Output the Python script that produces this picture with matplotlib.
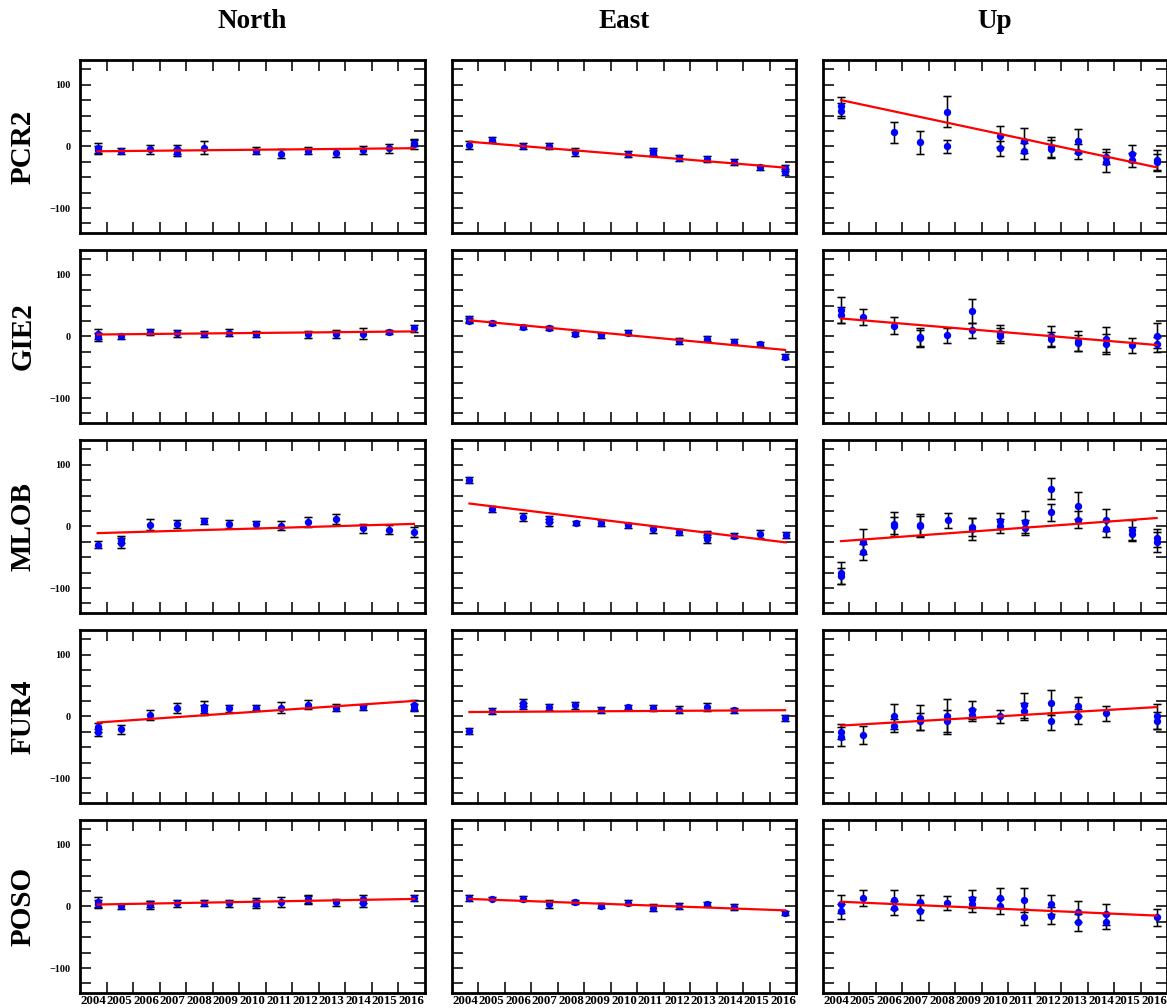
import matplotlib
matplotlib.use("Agg")
import matplotlib.pyplot as plt
from matplotlib.ticker import MultipleLocator, FuncFormatter, FixedLocator
import numpy as np

plt.rcParams['font.family'] = ['Liberation Serif', 'DejaVu Serif']
plt.rcParams['font.weight'] = 'bold'

stations = ["PCR2", "GIE2", "MLOB", "FUR4", "POSO"]
components = ["North", "East", "Up"]
year_labels = [str(y) for y in range(2004, 2017)]

# ---------------- PCR2 ----------------
pcr2_n_t = [2004.67, 2004.67, 2005.53, 2006.66, 2007.67, 2007.67, 2008.67, 2010.66, 2011.60, 2012.60, 2013.65, 2014.68, 2015.66, 2016.60, 2016.60]
pcr2_n_v = [-2, -6, -7.5, -5, -5, -10, -2, -7, -12, -7, -11, -6, -3, 3, 6]
pcr2_n_e = [8, 6, 5, 7, 7, 6, 10, 6, 7, 6, 7, 6, 7, 8, 6]
pcr2_n_fit = [-8, -3]

pcr2_e_t = [2004.67, 2005.53, 2006.68, 2007.66, 2008.66, 2010.66, 2011.58, 2011.58, 2012.58, 2013.62, 2014.65, 2015.65, 2016.58, 2016.58]
pcr2_e_v = [2, 11, 0.5, 0, -9, -12.5, -8, -11, -19, -20, -26, -34, -35, -42]
pcr2_e_e = [6, 4, 5, 5, 7, 5, 6, 5, 5, 5, 5, 4, 5, 5]
pcr2_e_fit = [7.5, -34.5]

pcr2_u_t = [2004.69, 2004.69, 2006.69, 2007.68, 2008.69, 2008.69, 2010.68, 2010.68, 2011.61, 2011.61, 2012.62, 2012.62, 2013.65, 2013.65, 2014.68, 2014.68, 2015.67, 2015.67, 2016.60, 2016.60]
pcr2_u_v = [65, 58, 23, 6.5, 56, 0, 16, -3, 9, -8, -1.5, -3.5, 9, -9, -17, -25, -12, -22, -22, -26]
pcr2_u_e = [15, 12, 17, 19, 25, 11, 17, 12, 20, 13, 17, 14, 19, 12, 12, 16, 14, 12, 16, 14]
pcr2_u_fit = [75, -34]

# ---------------- GIE2 ----------------
gie2_n_t = [2004.67, 2004.67, 2005.53, 2006.66, 2007.67, 2008.67, 2009.63, 2010.66, 2012.60, 2013.65, 2014.68, 2015.66, 2016.60]
gie2_n_v = [4, -1, 0, 7.5, 5, 4, 6, 4, 3, 4, 4, 7, 13]
gie2_n_e = [8, 6, 4, 5, 6, 5, 6, 5, 6, 7, 9, 4, 6]
gie2_n_fit = [3, 8]

gie2_e_t = [2004.67, 2004.67, 2005.53, 2006.68, 2007.66, 2008.66, 2009.64, 2010.66, 2012.58, 2013.62, 2014.65, 2015.65, 2016.58]
gie2_e_v = [28, 25, 21.5, 15.5, 13.5, 4, 1.5, 5.5, -7, -4, -9, -12, -33]
gie2_e_e = [5, 4, 3, 3, 4, 3, 4, 4, 5, 4, 4, 3, 4]
gie2_e_fit = [26, -22]

gie2_u_t = [2004.69, 2004.69, 2005.53, 2006.69, 2007.68, 2007.68, 2008.69, 2009.65, 2009.65, 2010.68, 2010.68, 2012.62, 2012.62, 2013.65, 2013.65, 2014.68, 2014.68, 2015.67, 2016.60, 2016.60]
gie2_u_v = [43, 35, 32, 17, -1, -3, 2, 41, 10, 6, 1, 0, -5, -7.5, -11, -5, -13, -14.5, 1, -13]
gie2_u_e = [21, 13, 13, 14, 15, 14, 12, 19, 12, 13, 12, 16, 12, 16, 13, 20, 16, 12, 20, 12]
gie2_u_fit = [29, -14]

# ---------------- MLOB ----------------
mlob_n_t = [2004.67, 2005.53, 2005.53, 2006.66, 2007.67, 2008.67, 2009.63, 2010.66, 2011.60, 2012.60, 2013.65, 2014.68, 2015.66, 2016.60]
mlob_n_v = [-29.5, -21.5, -27, 2.5, 4, 8, 4, 3, 1, 7.5, 12, -3, -5.5, -9]
mlob_n_e = [6, 6, 8, 9, 7, 5, 6, 6, 7, 8, 8, 7, 7, 8]
mlob_n_fit = [-11, 4]

mlob_e_t = [2004.67, 2005.53, 2006.68, 2007.66, 2007.66, 2008.69, 2009.64, 2010.66, 2011.60, 2012.58, 2013.62, 2013.62, 2014.65, 2015.65, 2016.60]
mlob_e_v = [75, 28.5, 15, 12, 6.5, 5.5, 6, 1.5, -5, -9, -12, -20.5, -15, -12.5, -14.5]
mlob_e_e = [5, 5, 6, 5, 6, 3, 5, 4, 6, 5, 5, 6, 4, 6, 5]
mlob_e_fit = [37, -26]

mlob_u_t = [2004.69, 2004.69, 2005.53, 2005.53, 2006.69, 2006.69, 2007.68, 2007.68, 2008.71, 2009.65, 2009.65, 2010.68, 2010.68, 2011.63, 2011.63, 2012.62, 2012.62, 2013.65, 2013.65, 2014.68, 2014.68, 2015.67, 2015.67, 2016.60, 2016.60]
mlob_u_v = [-75, -80, -25, -42, 4, 1, 1.5, 0, 10, -4, -1, 9, 1, 6.5, -2, 61, 22.5, 33.5, 11, 10, -5, -6.5, -12.5, -19, -25]
mlob_u_e = [18, 13, 20, 13, 20, 14, 18, 16, 12, 18, 15, 13, 11, 18, 12, 17, 14, 22, 14, 18, 13, 16, 12, 14, 16]
mlob_u_fit = [-24, 13.5]

# ---------------- FUR4 ----------------
fur4_n_t = [2004.67, 2004.67, 2005.53, 2006.66, 2007.67, 2008.67, 2008.67, 2009.63, 2010.66, 2011.60, 2012.60, 2013.65, 2014.68, 2016.60, 2016.60]
fur4_n_v = [-18, -26, -21, 2, 14, 15, 10, 13, 14, 14, 19, 14, 15, 18, 14]
fur4_n_e = [7, 6, 7, 8, 8, 10, 8, 6, 4, 9, 7, 6, 4, 8, 6]
fur4_n_fit = [-10, 25]

fur4_e_t = [2004.67, 2005.53, 2006.68, 2006.68, 2007.66, 2008.66, 2009.64, 2010.66, 2011.58, 2012.58, 2013.62, 2014.65, 2016.58]
fur4_e_v = [-24, 8, 22, 17, 15, 18, 10, 15, 13, 11, 15, 10, -3]
fur4_e_e = [5, 5, 6, 5, 5, 6, 5, 3, 5, 5, 6, 4, 5]
fur4_e_fit = [7, 10]

fur4_u_t = [2004.69, 2004.69, 2005.53, 2006.69, 2006.69, 2007.68, 2007.68, 2008.69, 2008.69, 2009.65, 2009.65, 2010.68, 2011.61, 2011.61, 2012.62, 2012.62, 2013.65, 2013.65, 2014.68, 2016.60, 2016.60]
fur4_u_v = [-33, -25, -30, 0, -15, -2, -8, 0, -8, 10, 2, 0, 18, 8, 22, -8, 16, 0, 5, 0, -7]
fur4_u_e = [15, 12, 15, 20, 10, 20, 14, 28, 18, 15, 10, 10, 20, 14, 20, 14, 15, 12, 12, 20, 14]
fur4_u_fit = [-15, 15]

# ---------------- POSO ----------------
poso_n_t = [2004.67, 2004.67, 2005.53, 2006.66, 2006.66, 2007.67, 2008.67, 2009.63, 2010.66, 2010.66, 2011.60, 2012.60, 2012.60, 2013.65, 2014.68, 2014.68, 2016.60]
poso_n_v = [6.5, 3.5, 0, 2, 4, 5, 5, 5, 4, 7, 6.5, 12, 10, 6.5, 12, 5, 13]
poso_n_e = [8, 6, 4, 6, 5, 6, 5, 6, 7, 6, 8, 7, 6, 6, 7, 6, 5]
poso_n_fit = [3, 12]

poso_e_t = [2004.67, 2005.53, 2006.68, 2007.66, 2008.66, 2009.64, 2010.66, 2011.58, 2012.58, 2013.62, 2014.65, 2016.58]
poso_e_v = [13.5, 12.5, 12, 4, 6.5, 1, 5.5, -2, 0, 4, -1, -10.5]
poso_e_e = [5, 3, 4, 6, 3, 4, 4, 5, 5, 3, 5, 3]
poso_e_fit = [12, -6.5]

poso_u_t = [2004.69, 2004.69, 2005.53, 2006.69, 2006.69, 2007.68, 2007.68, 2008.69, 2009.65, 2009.65, 2010.68, 2010.68, 2011.61, 2011.61, 2012.62, 2012.62, 2013.65, 2013.65, 2014.68, 2014.68, 2016.60]
poso_u_v = [4, -8, 13.5, 11, -3, 6.5, -8, 5.5, 12, 3, 14, 0, 10, -18, 3, -15, -8.5, -26, -13, -25, -18]
poso_u_e = [15, 12, 13, 15, 11, 12, 14, 12, 15, 12, 16, 12, 19, 13, 16, 14, 17, 14, 17, 12, 14]
poso_u_fit = [7.5, -15]

panels = {
    ("PCR2", "North"): (pcr2_n_t, pcr2_n_v, pcr2_n_e, pcr2_n_fit),
    ("PCR2", "East"): (pcr2_e_t, pcr2_e_v, pcr2_e_e, pcr2_e_fit),
    ("PCR2", "Up"): (pcr2_u_t, pcr2_u_v, pcr2_u_e, pcr2_u_fit),
    ("GIE2", "North"): (gie2_n_t, gie2_n_v, gie2_n_e, gie2_n_fit),
    ("GIE2", "East"): (gie2_e_t, gie2_e_v, gie2_e_e, gie2_e_fit),
    ("GIE2", "Up"): (gie2_u_t, gie2_u_v, gie2_u_e, gie2_u_fit),
    ("MLOB", "North"): (mlob_n_t, mlob_n_v, mlob_n_e, mlob_n_fit),
    ("MLOB", "East"): (mlob_e_t, mlob_e_v, mlob_e_e, mlob_e_fit),
    ("MLOB", "Up"): (mlob_u_t, mlob_u_v, mlob_u_e, mlob_u_fit),
    ("FUR4", "North"): (fur4_n_t, fur4_n_v, fur4_n_e, fur4_n_fit),
    ("FUR4", "East"): (fur4_e_t, fur4_e_v, fur4_e_e, fur4_e_fit),
    ("FUR4", "Up"): (fur4_u_t, fur4_u_v, fur4_u_e, fur4_u_fit),
    ("POSO", "North"): (poso_n_t, poso_n_v, poso_n_e, poso_n_fit),
    ("POSO", "East"): (poso_e_t, poso_e_v, poso_e_e, poso_e_fit),
    ("POSO", "Up"): (poso_u_t, poso_u_v, poso_u_e, poso_u_fit),
}

W, H = 1167, 1008
fig = plt.figure(figsize=(W / 100, H / 100), dpi=100)

col_left = [80, 451.7, 822.7]
col_w = 344.5
row_top = [60, 250, 440, 630, 820]
row_h = 172.7

years = np.arange(2004, 2017)


def ylab(y, p):
    if abs(y) <= 100 and abs(y) % 100 < 1e-6:
        return ("\u2212%d" % abs(int(y))) if y < 0 else "%d" % int(y)
    return ""


for r, st in enumerate(stations):
    for c, comp in enumerate(components):
        rect = [col_left[c] / W, 1 - (row_top[r] + row_h) / H, col_w / W, row_h / H]
        ax = fig.add_axes(rect)
        t, v, e, fit = panels[(st, comp)]
        ax.errorbar(t, v, yerr=e, fmt='none', ecolor='#777777', elinewidth=1.8,
                    capsize=3.2, capthick=1.8, alpha=0.45, zorder=2)
        ax.errorbar(t, v, yerr=e, fmt='none', ecolor='black', elinewidth=0.9,
                    capsize=3.2, capthick=0.9, zorder=3)
        ax.plot(t, v, 'o', color='#0000ff', markersize=5.3, markeredgewidth=0, zorder=4)
        ax.plot([min(t), max(t)], fit, color='red', linewidth=1.6, zorder=5)

        ax.set_xlim(2004, 2017)
        ax.set_ylim(-140, 140)
        ax.xaxis.set_major_locator(FixedLocator(years[1:]))
        ax.yaxis.set_major_locator(MultipleLocator(25))
        ax.tick_params(axis='both', which='major', direction='in', length=8, width=1.4,
                       color='#333333', top=True, right=True)
        ax.tick_params(axis='x', which='major', labelbottom=False, labeltop=False)
        ax.tick_params(axis='y', which='minor', length=0)
        ax.set_xticks(years + 0.5, minor=True)
        ax.tick_params(axis='x', which='minor', length=0, bottom=False, top=False, pad=2)
        if r == len(stations) - 1:
            ax.set_xticklabels(year_labels, minor=True, fontsize=9.3, fontweight='bold')
        else:
            ax.set_xticklabels([], minor=True)
        if c == 0:
            ax.yaxis.set_major_formatter(FuncFormatter(ylab))
            ax.tick_params(axis='y', labelsize=7.3, pad=7)
            for lab in ax.get_yticklabels():
                lab.set_fontweight('bold')
        else:
            ax.set_yticklabels([])
        for sp in ax.spines.values():
            sp.set_linewidth(2.0)
            sp.set_color('black')

        if r == 0:
            fig.text((col_left[c] + col_w / 2) / W, 1 - 22 / H, comp, ha='center', va='center',
                     fontsize=19.5, fontweight='bold')
        if c == 0:
            fig.text(23 / W, 1 - (row_top[r] + row_h / 2) / H, st, ha='center', va='center',
                     rotation=90, fontsize=21, fontweight='bold')

fig.savefig("out.png", dpi=100)
